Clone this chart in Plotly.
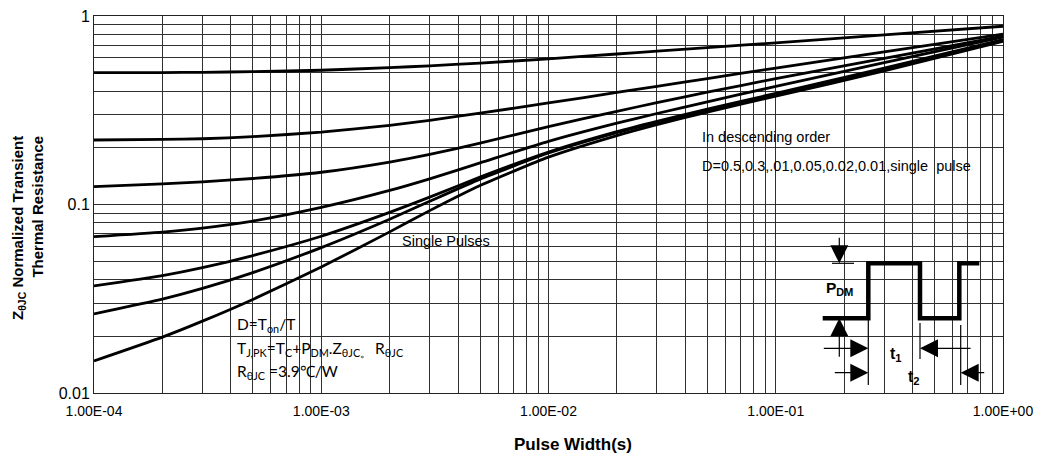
import plotly.graph_objects as go

# ---------------- data ----------------
pulse_width = [1e-4, 2e-4, 3e-4, 5e-4, 1e-3, 2e-3, 3e-3, 5e-3, 1e-2, 2e-2, 3e-2, 5e-2, 1e-1, 3e-1, 1.0]
z_d05 = [0.5003, 0.5013, 0.5028, 0.5068, 0.5155, 0.5320, 0.5442, 0.5627, 0.5925, 0.6286, 0.6506, 0.6792, 0.7206, 0.7934, 0.8823]
z_d03 = [0.2199, 0.2214, 0.2232, 0.2290, 0.2420, 0.2631, 0.2797, 0.3052, 0.3457, 0.3931, 0.4237, 0.4657, 0.5295, 0.6455, 0.8017]
z_d01 = [0.1243, 0.1287, 0.1319, 0.1374, 0.1483, 0.1680, 0.1844, 0.2117, 0.2589, 0.3122, 0.3469, 0.3941, 0.4655, 0.5958, 0.7810]
z_d005 = [0.0675, 0.07135, 0.0749, 0.0817, 0.0965, 0.1188, 0.1369, 0.1662, 0.2163, 0.2701, 0.3039, 0.3507, 0.4230, 0.5660, 0.7740]
z_d002 = [0.0370, 0.04193, 0.0462, 0.0536, 0.06785, 0.09078, 0.1094, 0.1398, 0.1897, 0.2434, 0.2760, 0.3202, 0.3887, 0.5286, 0.7496]
z_d001 = [0.0263, 0.03148, 0.03586, 0.04354, 0.05908, 0.08355, 0.1040, 0.1364, 0.1876, 0.2407, 0.2730, 0.3167, 0.3845, 0.5229, 0.7415]
z_single = [0.0148, 0.0198, 0.02406, 0.03137, 0.04657, 0.07158, 0.09278, 0.1261, 0.1783, 0.2320, 0.2652, 0.3093, 0.3755, 0.5107, 0.7330]
series = [("D=0.5", z_d05), ("D=0.3", z_d03), ("D=0.1", z_d01), ("D=0.05", z_d005),
          ("D=0.02", z_d002), ("D=0.01", z_d001), ("Single pulse", z_single)]

x_major_labels = ["1.00E-04", "1.00E-03", "1.00E-02", "1.00E-01", "1.00E+00"]
y_major_labels = ["0.01", "0.1", "1"]

x_tickvals = [m * 10.0 ** e for e in range(-4, 0) for m in range(1, 10)] + [1.0]
x_ticktext = []
for e in range(-4, 0):
    x_ticktext += [x_major_labels[e + 4]] + [""] * 8
x_ticktext.append(x_major_labels[-1])
y_tickvals = [m * 10.0 ** e for e in range(-2, 0) for m in range(1, 10)] + [1.0]
y_ticktext = []
for e in range(-2, 0):
    y_ticktext += [y_major_labels[e + 2]] + [""] * 8
y_ticktext.append(y_major_labels[-1])

# ---------------- layout helpers (pixel -> paper) ----------------
W, H = 1042, 459
ML, MR, MT, MB = 94, 39, 16, 66
PW, PH = W - ML - MR, H - MT - MB


def xp(px):
    return (px - ML) / PW


def yp(py):
    return (H - MB - py) / PH


fig = go.Figure()
for name, z in series:
    fig.add_trace(go.Scatter(x=pulse_width, y=z, mode="lines", name=name,
                             line=dict(color="black", width=2.8, shape="spline", smoothing=0.5),
                             showlegend=False, hoverinfo="x+y"))

grid = "#303030"
fig.update_xaxes(type="log", range=[-4, 0], tickvals=x_tickvals, ticktext=x_ticktext,
                 showgrid=True, gridcolor=grid, gridwidth=1, ticks="", ticklabelstandoff=5,
                 showline=True, linecolor="#222", linewidth=1, mirror=True,
                 tickfont=dict(family="Liberation Sans, Arial", size=14, color="black"),
                 zeroline=False)
fig.update_yaxes(type="log", range=[-2, 0], tickvals=y_tickvals, ticktext=y_ticktext,
                 showgrid=True, gridcolor=grid, gridwidth=1, ticks="",
                 showline=True, linecolor="#222", linewidth=1, mirror=True,
                 tickfont=dict(family="Liberation Sans, Arial", size=16, color="black"),
                 zeroline=False)

shapes = []
annots = []

# white boxes (between grid and traces)
boxes = [(695, 117, 983, 180), (393, 233, 495, 253), (232, 308, 410, 393), (818, 236, 990, 389)]
for x0, y0, x1, y1 in boxes:
    shapes.append(dict(type="rect", xref="paper", yref="paper", x0=xp(x0), x1=xp(x1),
                       y0=yp(y1), y1=yp(y0), fillcolor="white", line=dict(width=0), layer="between"))


def txt(x, y, text, font, xanchor="left", **kw):
    annots.append(dict(x=xp(x), y=yp(y), xref="paper", yref="paper", xanchor=xanchor, yanchor="middle",
                       text=text, showarrow=False, font=font, **kw))


txt_font = dict(family="Liberation Sans, Arial", size=14.5, color="black")
txt(700, 137, "In descending order", txt_font)
txt(700, 166, "D=0.5,0.3,.01,0.05,0.02,0.01,single  pulse", txt_font)
txt(400, 241, "Single Pulses", txt_font)

cal = dict(family="Lato, Liberation Sans", size=15.5, color="black")
txt(235, 325, "D=T<sub>on</sub>/T", cal)
txt(235, 349, "T<sub>J,PK</sub>=T<sub>C</sub>+P<sub>DM</sub>.Z<sub>θJC。</sub> R<sub>θJC</sub>", cal)
txt(235, 372, "R<sub>θJC</sub> =3.9℃/W", cal)

# ---------------- inset pulse diagram ----------------
wave_x = [822.7, 868.3, 868.3, 920, 920, 959.3, 959.3, 979.3]
wave_y = [318.3, 318.3, 263.3, 263.3, 318.3, 318.3, 263.3, 263.3]
path = "M " + " L ".join(f"{xp(a):.5f},{yp(b):.5f}" for a, b in zip(wave_x, wave_y))
shapes.append(dict(type="path", xref="paper", yref="paper", path=path,
                   line=dict(color="black", width=4.5)))
thin_lines = [(832, 263.3, 854, 263.3), (868.3, 318, 868.3, 385), (920, 323, 920, 359),
              (960.7, 325, 960.7, 385)]
for x0, y0, x1, y1 in thin_lines:
    shapes.append(dict(type="line", xref="paper", yref="paper", x0=xp(x0), y0=yp(y0), x1=xp(x1), y1=yp(y1),
                       line=dict(color="black", width=1.2)))
arrows = [(839.3, 263.3, 0, -27), (839.3, 318.3, 0, 40), (868.3, 348.3, -46, 0), (920, 348.3, 52, 0),
          (868.3, 372.7, -35, 0), (960.7, 372.7, 25, 0)]
for hx, hy, ax, ay in arrows:
    annots.append(dict(x=xp(hx), y=yp(hy), xref="paper", yref="paper", ax=ax, ay=ay, text="",
                       showarrow=True, arrowhead=2, arrowsize=3, arrowwidth=1.2, arrowcolor="black"))
lab = dict(family="Liberation Sans, Arial", size=16, color="black")
txt(839, 288, "<b>P<sub>DM</sub></b>", dict(lab, size=15.5), xanchor="center")
txt(896, 354, "<b>t<sub>1</sub></b>", lab, xanchor="center")
txt(914, 377, "<b>t<sub>2</sub></b>", lab, xanchor="center")

# axis titles
txt(573, 444, "<b>Pulse Width(s)</b>", dict(family="Liberation Sans, Arial", size=17, color="black"),
    xanchor="center")
txt(27, 228, "<b>Z<sub>θJC</sub> Normalized Transient<br>Thermal Resistance</b>",
    dict(family="Liberation Sans, Arial", size=15, color="black"), xanchor="center",
    textangle=-90, align="right")

fig.update_layout(width=W, height=H, margin=dict(l=ML, r=MR, t=MT, b=MB, autoexpand=False),
                  paper_bgcolor="white", plot_bgcolor="white", shapes=shapes, annotations=annots)
fig.write_html("out.html", config={"displayModeBar": False},
               post_script="document.body.style.margin='0';")
